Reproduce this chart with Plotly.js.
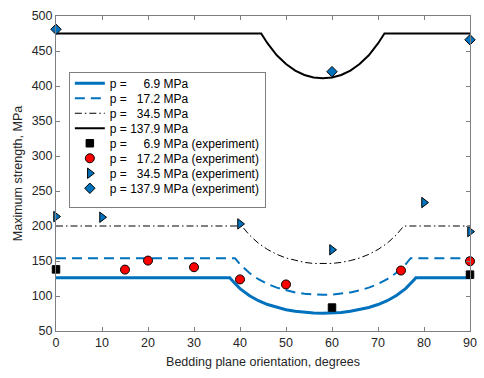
<!DOCTYPE html>
<html><head><meta charset="utf-8">
<script src="https://cdn.plot.ly/plotly-3.0.1.min.js"></script>
<style>html,body{margin:0;padding:0;background:#fff;}#chart{width:484px;height:378px;}</style>
</head><body><div id="chart"></div>
<script>
// Model curves
const x69 = [0, 37.8, 38, 40, 42, 44, 46, 48, 50, 52, 54, 56, 58, 60, 62, 64, 66, 68, 70, 72, 74, 76, 78, 78.2, 90];
const y69 = [126, 126, 124.2, 110.6, 100.7, 93.3, 87.8, 83.6, 80.4, 78.1, 76.5, 75.6, 75.3, 75.6, 76.5, 78.1, 80.4, 83.6, 87.8, 93.3, 100.7, 110.6, 124.2, 126, 126];
const x172 = [0, 38.9, 40, 42, 44, 46, 48, 50, 52, 54, 56, 58, 60, 62, 64, 66, 68, 70, 72, 74, 76, 77.1, 90];
const y172 = [154, 154, 145.3, 133.1, 124.0, 117.1, 111.9, 108.0, 105.1, 103.2, 102.1, 101.7, 102.1, 103.2, 105.1, 108.0, 111.9, 117.1, 124.0, 133.1, 145.3, 154, 154];
const x345 = [0, 40.4, 42, 44, 46, 48, 50, 52, 54, 56, 58, 60, 62, 64, 66, 68, 70, 72, 74, 75.6, 90];
const y345 = [200, 200, 187.4, 175.4, 166.4, 159.5, 154.3, 150.6, 148.0, 146.5, 146.0, 146.5, 148.0, 150.6, 154.3, 159.5, 166.4, 175.4, 187.4, 200, 200];
const x1379 = [0, 44.6, 46, 48, 50, 52, 54, 56, 58, 60, 62, 64, 66, 68, 70, 71.4, 90];
const y1379 = [475, 475, 460.8, 443.9, 431.3, 422.1, 415.8, 412.2, 411.0, 412.2, 415.8, 422.1, 431.3, 443.9, 460.8, 475, 475];

// Experimental points
const ex69 = [0, 60, 90];
const ey69 = [138, 83.5, 130.5];
const ex172 = [15, 20, 30, 40, 50, 75, 90];
const ey172 = [137.7, 150.6, 141.1, 123.7, 116.5, 136.4, 149.7];
const ex345 = [0, 10, 40, 60, 80, 90];
const ey345 = [213.5, 212.5, 203, 166, 233.5, 192];
const ex1379 = [0, 60, 90];
const ey1379 = [481, 420.5, 466];

const nb = '\u00A0';
const names = [
  'p =' + nb.repeat(5) + '6.9 MPa',
  'p =' + nb.repeat(3) + '17.2 MPa',
  'p =' + nb.repeat(3) + '34.5 MPa',
  'p =' + nb + '137.9 MPa',
  'p =' + nb.repeat(5) + '6.9 MPa (experiment)',
  'p =' + nb.repeat(3) + '17.2 MPa (experiment)',
  'p =' + nb.repeat(3) + '34.5 MPa (experiment)',
  'p =' + nb + '137.9 MPa (experiment)'
];
const blue = '#0072BD';

const traces = [
  {x: x69, y: y69, mode: 'lines', name: names[0], line: {color: blue, width: 3}},
  {x: x172, y: y172, mode: 'lines', name: names[1], line: {color: blue, width: 2, dash: '10px,6px'}},
  {x: x345, y: y345, mode: 'lines', name: names[2], line: {color: '#000', width: 1, dash: '7px,3px,1.5px,3px'}},
  {x: x1379, y: y1379, mode: 'lines', name: names[3], line: {color: '#000', width: 2}},
  {x: ex69, y: ey69, mode: 'markers', name: names[4], marker: {symbol: 'square', color: '#000', size: 7.5, line: {color: '#000', width: 1}}, cliponaxis: false},
  {x: ex172, y: ey172, mode: 'markers', name: names[5], marker: {symbol: 'circle', color: '#FF0000', size: 9, line: {color: '#000', width: 1}}, cliponaxis: false},
  {x: ex345, y: ey345, mode: 'markers', name: names[6], marker: {symbol: 'triangle-right', color: blue, size: 9, line: {color: '#000', width: 1}}, cliponaxis: false},
  {x: ex1379, y: ey1379, mode: 'markers', name: names[7], marker: {symbol: 'diamond', color: blue, size: 8, line: {color: '#000', width: 1}}, cliponaxis: false}
];

const axisCommon = {
  showgrid: false, zeroline: false, showline: true, linecolor: '#7f7f7f', linewidth: 1,
  mirror: 'allticks', ticks: 'inside', ticklen: 4, tickcolor: '#7f7f7f',
  tickfont: {family: 'Liberation Sans, Arial, sans-serif', size: 12.5, color: '#262626'}
};

const layout = {
  width: 484, height: 378,
  margin: {l: 56, r: 14, t: 16, b: 47},
  paper_bgcolor: '#fff', plot_bgcolor: '#fff',
  font: {family: 'Liberation Sans, Arial, sans-serif', color: '#262626'},
  showlegend: true,
  xaxis: Object.assign({}, axisCommon, {range: [0, 90], tickvals: [0,10,20,30,40,50,60,70,80,90],
    title: {text: 'Bedding plane orientation, degrees', font: {size: 12.5, color: '#262626'}, standoff: 8}}),
  yaxis: Object.assign({}, axisCommon, {range: [50, 500], tickvals: [50,100,150,200,250,300,350,400,450,500],
    title: {text: 'Maximum strength, MPa', font: {size: 12.5, color: '#262626'}, standoff: 6}}),
  legend: {x: 0.031, y: 0.823, xanchor: 'left', yanchor: 'top', bgcolor: '#fff',
    bordercolor: '#7f7f7f', borderwidth: 1, font: {size: 12, color: '#000'},
    itemwidth: 30, tracegroupgap: 0, traceorder: 'normal'}
};

Plotly.newPlot('chart', traces, layout, {displayModeBar: false, staticPlot: true}).then(function (gd) {
  // tighten legend row spacing to match the reference (~15 px per row)
  const items = Array.from(gd.querySelectorAll('.legend .traces'));
  if (items.length < 2) return;
  const re = /translate\(\s*([-\d.e]+)[ ,]+([-\d.e]+)\s*\)/;
  const pos = items.map(el => { const m = re.exec(el.getAttribute('transform') || ''); return m ? [+m[1], +m[2]] : [0, 0]; });
  const origPitch = (pos[pos.length - 1][1] - pos[0][1]) / (pos.length - 1);
  const pitch = 15;
  const shift = -4;
  items.forEach((el, i) => el.setAttribute('transform', 'translate(' + pos[i][0] + ',' + (pos[0][1] + shift + i * pitch) + ')'));
  const bg = gd.querySelector('.legend .bg');
  if (bg) {
    const h = parseFloat(bg.getAttribute('height'));
    bg.setAttribute('height', h - (origPitch - pitch) * (pos.length - 1));
  }
});
</script>
</body></html>
